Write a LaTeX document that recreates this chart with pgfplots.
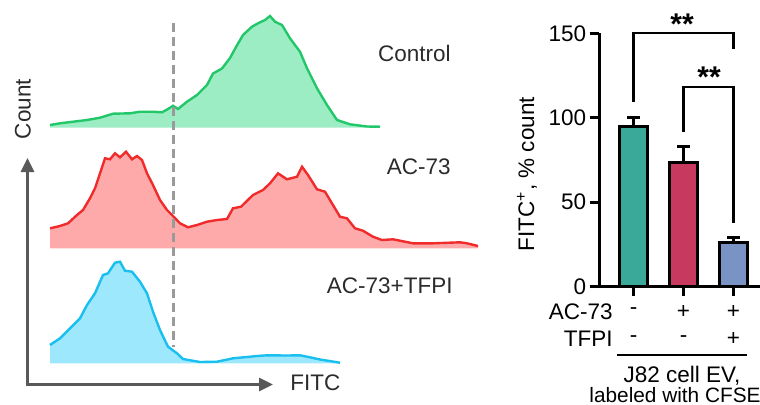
\documentclass[border=0pt]{standalone}
\usepackage{fontspec}
\setmainfont{Liberation Sans}
\usepackage{pgfplots}
\usepackage{pgfplotstable}
\pgfplotsset{compat=1.18}
\usetikzlibrary{arrows.meta}

\definecolor{gfill}{HTML}{9DEDC4}
\definecolor{gline}{HTML}{22C76A}
\definecolor{rfill}{HTML}{FFAAAA}
\definecolor{rline}{HTML}{F02B2B}
\definecolor{bfill}{HTML}{9EE8FD}
\definecolor{bline}{HTML}{19BFEF}
\definecolor{dashgray}{HTML}{9A9A9A}
\definecolor{arrowgray}{HTML}{595959}
\definecolor{lbl}{HTML}{2B2B2B}
\definecolor{barA}{HTML}{3BA99A}
\definecolor{barB}{HTML}{C8395F}
\definecolor{barC}{HTML}{7A93C5}

% histogram traces (x, y in pixel units, y downwards)
\pgfplotstableread{
x y
50 125
60 123.3
73 121.7
87 120
100 117.7
113 113.7
130 113.3
140 111.7
153 111.7
162 112.3
168 109
173 105.7
178 109
187 101.7
197 95
207 85
213 73.5
222 68.5
230 58
236 47
243 35
252 26.7
258 23.3
265 20
270 16
275 21.7
282 25
290 38.3
300 51.7
307 68.3
317 88.3
327 105
337 120
350 124.3
367 126.5
380 126.7
}\ctrl

\pgfplotstableread{
x y
50 228.3
60 226
68 223.3
77 215
83 210
90 198.3
95 188.3
100 173.3
105 158.3
110 159.3
115 153.3
120 157.3
126 151.7
132 159.3
137 156
142 160
147 173.3
153 185
160 200
167 210
173 216
180 223.3
188 227.3
197 225
207 221.7
217 220
227 219
233 208.3
241 206.7
253 195
263 190
270 183.3
278 173.3
287 179.3
297 176.7
302 166.7
308 175
317 189.3
325 191.7
333 205
340 216.7
347 218.3
355 228.3
363 230.7
373 236.7
382 240
393 239.3
413 243.3
433 243.3
460 242.3
467 243.3
478 246
}\acs

\pgfplotstableread{
x y
50 345
60 338.3
70 328.3
80 318.3
87 305
95 293.3
103 275
108 273.3
115 262.7
120 261.7
125 270.7
132 271.7
140 281.7
147 293.3
153 311.7
160 330
168 346.7
177 353.3
183 359
200 362
217 361.7
233 358.3
250 356.7
257 356
267 355.3
287 355.5
300 355.3
310 357.3
320 359.5
340 362.7
}\tfpi

\begin{document}
\begin{tikzpicture}[font=\fontsize{11.25}{13.5}\selectfont]
\begin{axis}[at={(0,0)}, anchor=south west, scale only axis,
  width=380pt, height=202pt,
  xmin=0, xmax=760, ymin=0, ymax=404, y dir=reverse,
  hide axis, clip=false, no marks]
  % fills
  \addplot[draw=none, fill=gfill] table {\ctrl} -- (axis cs:380,127.5) -- (axis cs:50,127.5) -- cycle;
  \addplot[draw=none, fill=rfill] table {\acs} -- (axis cs:478,248.3) -- (axis cs:50,248.3) -- cycle;
  \addplot[draw=none, fill=bfill] table {\tfpi} -- (axis cs:340,363.3) -- (axis cs:50,363.3) -- cycle;
  % outlines
  \addplot[gline, line width=1.2pt] table {\ctrl};
  \addplot[rline, line width=1.2pt] table {\acs};
  \addplot[bline, line width=1.2pt] table {\tfpi};
  % gate
  \draw[dashgray, line width=1.75pt, dash pattern=on 4.5pt off 2.5pt]
    (axis cs:173.3,22.7) -- (axis cs:173.3,346.7);
  % axes arrows
  \draw[arrowgray, line width=1.5pt,
    {Triangle[length=7pt,width=6.5pt]}-{Triangle[length=7pt,width=6.5pt]}]
    (axis cs:27.5,158) -- (axis cs:27.5,384.5) -- (axis cs:273,384.5);
  \node[lbl, rotate=90, anchor=base] at (axis cs:30.5,109) {Count};
  \node[lbl, anchor=base west, inner sep=0pt] at (axis cs:290,390.7) {FITC};
  % sample labels
  \node[lbl, anchor=base east, inner sep=0pt] at (axis cs:451,61) {Control};
  \node[lbl, anchor=base east, inner sep=0pt] at (axis cs:451,174.3) {AC-73};
  \node[lbl, anchor=base east, inner sep=0pt] at (axis cs:453,293.3) {AC-73+TFPI};
  % bar chart y label and condition table
  \node[rotate=90, anchor=base] at (axis cs:534,174) {FITC\textsuperscript{+}, \% count};
  \node[anchor=base east, inner sep=0pt] at (axis cs:613,319.3) {AC-73};
  \node[anchor=base east, inner sep=0pt] at (axis cs:613,346.7) {TFPI};
  \node at (axis cs:633.5,311.5) {-};
  \node at (axis cs:683.5,311.5) {+};
  \node at (axis cs:733.5,311.5) {+};
  \node at (axis cs:633.5,339) {-};
  \node at (axis cs:683.5,339) {-};
  \node at (axis cs:733.5,338.5) {+};
  \draw[line width=1pt] (axis cs:617,355) -- (axis cs:747,355);
  \node[anchor=base, inner sep=0pt] at (axis cs:682,382.7) {J82 cell EV,};
  \node[anchor=base, inner sep=0pt, font=\fontsize{10.4}{12}\selectfont] at (axis cs:675,402.5) {labeled with CFSE};
\end{axis}

\begin{axis}[at={(299.5pt,58.65pt)}, anchor=south west, scale only axis,
  width=82.75pt, height=126.7pt,
  xmin=0.31, xmax=3.62, ymin=0, ymax=150,
  axis x line*=bottom, axis y line*=left,
  axis line style={line width=1.5pt, black},
  xtick={1,2,3}, xticklabels={}, ytick={0,50,100,150},
  tick align=outside, major tick length=4.75pt,
  tick style={line width=1.5pt, black},
  /pgf/number format/assume math mode=true,
  tick label style={font=\fontsize{11.25}{13.5}\selectfont},
  yticklabel style={inner xsep=1.5pt},
  ybar, bar width=0.56, bar shift=0pt, clip=false]
  \addplot[fill=barA, draw=black, line width=1.5pt,
    error bars/.cd, y dir=plus, y explicit,
    error bar style={line width=1.5pt, black},
    error mark options={rotate=90, mark size=3.25pt, line width=1.5pt, black}]
    coordinates {(1,94.7) +- (0,5.6)};
  \addplot[fill=barB, draw=black, line width=1.5pt,
    error bars/.cd, y dir=plus, y explicit,
    error bar style={line width=1.5pt, black},
    error mark options={rotate=90, mark size=3.25pt, line width=1.5pt, black}]
    coordinates {(2,73.5) +- (0,9.4)};
  \addplot[fill=barC, draw=black, line width=1.5pt,
    error bars/.cd, y dir=plus, y explicit,
    error bar style={line width=1.5pt, black},
    error mark options={rotate=90, mark size=3.25pt, line width=1.5pt, black}]
    coordinates {(3,26.2) +- (0,2.8)};
  % significance brackets
  \draw[line width=1.1pt] (axis cs:1,109.6) -- (axis cs:1,150) -- (axis cs:3,150) -- (axis cs:3,141);
  \draw[line width=1.1pt] (axis cs:2,91.8) -- (axis cs:2,118) -- (axis cs:3,118) -- (axis cs:3,37.7);
  \node[anchor=base, inner sep=0pt, font=\fontsize{15}{16}\selectfont\bfseries] at (axis cs:1.97,149.5) {**};
  \node[anchor=base, inner sep=0pt, font=\fontsize{15}{16}\selectfont\bfseries] at (axis cs:2.51,118) {**};
\end{axis}
\pgfresetboundingbox
\useasboundingbox (0,0) rectangle (380pt,202pt);
\end{tikzpicture}
\end{document}
